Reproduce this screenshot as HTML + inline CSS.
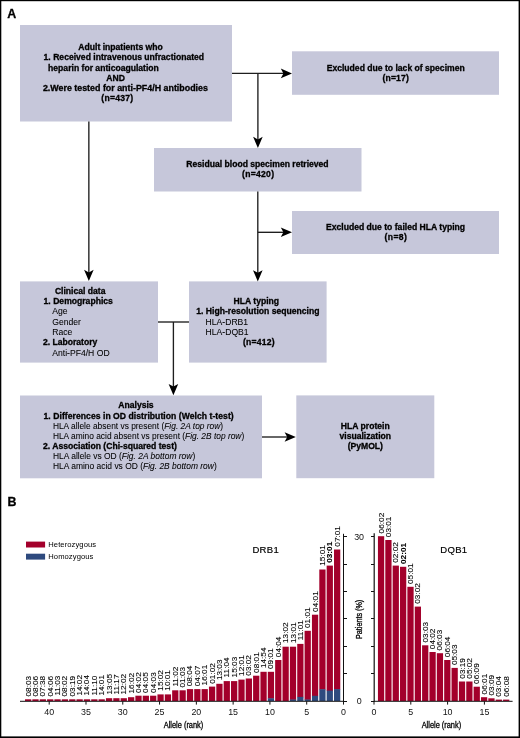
<!DOCTYPE html>
<html><head><meta charset="utf-8"><title>Figure</title>
<style>
html,body{margin:0;padding:0;background:#fff;}
svg{display:block;}
text{font-family:"Liberation Sans",sans-serif;}
.b{font-size:8.6px;font-weight:bold;fill:#000;stroke:#000;stroke-width:0.3px;}
.r{font-size:8.6px;fill:#000;stroke:#000;stroke-width:0.06px;}
.lbl{font-size:12.4px;font-weight:bold;fill:#000;stroke:#000;stroke-width:0.3px;}
.leg{font-size:7.6px;fill:#000;letter-spacing:0.08px;}
.ttl{font-size:9.5px;fill:#000;letter-spacing:0.35px;stroke:#000;stroke-width:0.2px;}
.bl{font-size:7.5px;fill:#000;stroke:#000;stroke-width:0.1px;}
.b2{font-weight:bold;}
.tk{font-size:8.9px;fill:#111;}
.ax{font-size:8.4px;fill:#000;stroke:#000;stroke-width:0.3px;}
</style></head>
<body>
<svg width="520" height="738" viewBox="0 0 520 738">
<rect x="0" y="0" width="520" height="738" fill="#fff"/>
<text x="7.30" y="18.40" class="lbl">A</text>
<rect x="20.00" y="25.00" width="212.00" height="96.50" fill="#c6c7da"/>
<rect x="292.00" y="51.30" width="207.00" height="43.50" fill="#c6c7da"/>
<rect x="154.00" y="148.00" width="207.50" height="43.50" fill="#c6c7da"/>
<rect x="292.00" y="211.00" width="207.00" height="43.00" fill="#c6c7da"/>
<rect x="20.00" y="281.40" width="138.00" height="81.20" fill="#c6c7da"/>
<rect x="189.00" y="281.40" width="137.60" height="81.20" fill="#c6c7da"/>
<rect x="20.00" y="395.50" width="242.00" height="82.80" fill="#c6c7da"/>
<rect x="296.30" y="395.40" width="138.00" height="82.80" fill="#c6c7da"/>
<line x1="232.00" y1="73.40" x2="287.00" y2="73.40" stroke="#1e1e1e" stroke-width="1.35"/>
<path d="M292.00,73.40 L280.80,68.60 L283.40,73.40 L280.80,78.20 Z" fill="#000"/>
<line x1="257.90" y1="73.40" x2="257.90" y2="143.00" stroke="#1e1e1e" stroke-width="1.35"/>
<path d="M257.90,148.00 L253.10,136.80 L257.90,139.40 L262.70,136.80 Z" fill="#000"/>
<line x1="257.80" y1="191.50" x2="257.80" y2="276.00" stroke="#1e1e1e" stroke-width="1.35"/>
<path d="M257.80,281.40 L253.00,270.20 L257.80,272.80 L262.60,270.20 Z" fill="#000"/>
<line x1="257.80" y1="232.30" x2="287.00" y2="232.30" stroke="#1e1e1e" stroke-width="1.35"/>
<path d="M292.00,232.30 L280.80,227.50 L283.40,232.30 L280.80,237.10 Z" fill="#000"/>
<line x1="88.85" y1="121.50" x2="88.85" y2="276.00" stroke="#1e1e1e" stroke-width="1.35"/>
<path d="M88.85,281.00 L84.05,269.80 L88.85,272.40 L93.65,269.80 Z" fill="#000"/>
<line x1="158.00" y1="322.00" x2="189.00" y2="322.00" stroke="#1e1e1e" stroke-width="1.35"/>
<line x1="173.40" y1="322.00" x2="173.40" y2="390.00" stroke="#1e1e1e" stroke-width="1.35"/>
<path d="M173.40,395.20 L168.60,384.00 L173.40,386.60 L178.20,384.00 Z" fill="#000"/>
<line x1="262.00" y1="437.00" x2="291.00" y2="437.00" stroke="#1e1e1e" stroke-width="1.35"/>
<path d="M295.80,437.00 L284.60,432.20 L287.20,437.00 L284.60,441.80 Z" fill="#000"/>
<text x="78.30" y="50.00" class="b">Adult inpatients who</text>
<text x="43.60" y="60.40" class="b">1. Received intravenous unfractionated</text>
<text x="48.10" y="70.60" class="b">heparin for anticoagulation</text>
<text x="106.30" y="80.80" class="b">AND</text>
<text x="42.90" y="91.20" class="b" textLength="165" lengthAdjust="spacingAndGlyphs">2.Were tested for anti-PF4/H antibodies</text>
<text x="101.30" y="101.30" class="b" textLength="31.8" lengthAdjust="spacing">(n=437)</text>
<text x="326.70" y="70.70" class="b">Excluded due to lack of specimen</text>
<text x="382.60" y="80.60" class="b" textLength="26.2" lengthAdjust="spacing">(n=17)</text>
<text x="186.30" y="167.00" class="b">Residual blood specimen retrieved</text>
<text x="242.10" y="177.40" class="b" textLength="31.9" lengthAdjust="spacing">(n=420)</text>
<text x="326.00" y="229.90" class="b">Excluded due to failed HLA typing</text>
<text x="384.60" y="240.00" class="b" textLength="22.3" lengthAdjust="spacing">(n=8)</text>
<text x="54.90" y="293.80" class="b">Clinical data</text>
<text x="43.60" y="303.90" class="b">1. Demographics</text>
<text x="52.30" y="314.10" class="r">Age</text>
<text x="52.30" y="324.50" class="r">Gender</text>
<text x="52.30" y="335.00" class="r">Race</text>
<text x="42.90" y="345.40" class="b">2. Laboratory</text>
<text x="52.30" y="355.70" class="r">Anti-PF4/H OD</text>
<text x="233.60" y="303.80" class="b">HLA typing</text>
<text x="196.30" y="314.00" class="b">1. High-resolution sequencing</text>
<text x="205.60" y="324.90" class="r">HLA-DRB1</text>
<text x="205.60" y="334.90" class="r">HLA-DQB1</text>
<text x="242.90" y="344.80" class="b" textLength="31.6" lengthAdjust="spacing">(n=412)</text>
<text x="118.30" y="408.10" class="b">Analysis</text>
<text x="43.50" y="418.60" class="b" textLength="190.2" lengthAdjust="spacing">1. Differences in OD distribution (Welch t-test)</text>
<text x="52.90" y="429.20" class="r" textLength="170.2" lengthAdjust="spacingAndGlyphs">HLA allele absent vs present (<tspan font-style="italic">Fig. 2A top row</tspan>)</text>
<text x="52.90" y="439.30" class="r" textLength="191.3" lengthAdjust="spacingAndGlyphs">HLA amino acid absent vs present (<tspan font-style="italic">Fig. 2B top row</tspan>)</text>
<text x="43.00" y="449.20" class="b">2. Association (Chi-squared test)</text>
<text x="52.90" y="459.30" class="r" textLength="142.3" lengthAdjust="spacingAndGlyphs">HLA allele vs OD (<tspan font-style="italic">Fig. 2A bottom row</tspan>)</text>
<text x="52.90" y="469.40" class="r" textLength="163.8" lengthAdjust="spacingAndGlyphs">HLA amino acid vs OD (<tspan font-style="italic">Fig. 2B bottom row</tspan>)</text>
<text x="365.30" y="429.30" class="b" text-anchor="middle">HLA protein</text>
<text x="365.30" y="439.30" class="b" text-anchor="middle">visualization</text>
<text x="365.30" y="449.30" class="b" text-anchor="middle">(PyMOL)</text>
<text x="7.40" y="505.60" class="lbl">B</text>
<rect x="26.00" y="541.60" width="19.10" height="5.90" fill="#a3002b"/>
<rect x="26.00" y="553.70" width="19.10" height="5.90" fill="#2e4a7e"/>
<text x="48.30" y="546.70" class="leg">Heterozygous</text>
<text x="48.30" y="558.60" class="leg">Homozygous</text>
<text x="252.40" y="553.00" class="ttl">DRB1</text>
<text x="440.20" y="552.90" class="ttl">DQB1</text>
<rect x="334.02" y="549.50" width="6.25" height="140.00" fill="#a3002b"/>
<rect x="334.02" y="689.10" width="6.25" height="11.90" fill="#2e4a7e"/>
<rect x="326.66" y="565.60" width="6.25" height="125.40" fill="#a3002b"/>
<rect x="326.66" y="690.60" width="6.25" height="10.40" fill="#2e4a7e"/>
<rect x="319.30" y="569.50" width="6.25" height="120.10" fill="#a3002b"/>
<rect x="319.30" y="689.20" width="6.25" height="11.80" fill="#2e4a7e"/>
<rect x="311.94" y="614.70" width="6.25" height="81.50" fill="#a3002b"/>
<rect x="311.94" y="695.80" width="6.25" height="5.20" fill="#2e4a7e"/>
<rect x="304.59" y="630.80" width="6.25" height="69.10" fill="#a3002b"/>
<rect x="304.59" y="699.50" width="6.25" height="1.50" fill="#2e4a7e"/>
<rect x="297.23" y="643.90" width="6.25" height="53.40" fill="#a3002b"/>
<rect x="297.23" y="696.90" width="6.25" height="4.10" fill="#2e4a7e"/>
<rect x="289.87" y="646.70" width="6.25" height="53.20" fill="#a3002b"/>
<rect x="289.87" y="699.50" width="6.25" height="1.50" fill="#2e4a7e"/>
<rect x="282.51" y="646.70" width="6.25" height="54.30" fill="#a3002b"/>
<rect x="275.16" y="660.00" width="6.25" height="41.00" fill="#a3002b"/>
<rect x="267.80" y="671.80" width="6.25" height="26.90" fill="#a3002b"/>
<rect x="267.80" y="698.30" width="6.25" height="2.70" fill="#2e4a7e"/>
<rect x="260.44" y="671.80" width="6.25" height="29.20" fill="#a3002b"/>
<rect x="253.09" y="675.70" width="6.25" height="25.30" fill="#a3002b"/>
<rect x="245.73" y="678.50" width="6.25" height="22.50" fill="#a3002b"/>
<rect x="238.37" y="679.60" width="6.25" height="21.40" fill="#a3002b"/>
<rect x="231.01" y="681.10" width="6.25" height="19.90" fill="#a3002b"/>
<rect x="223.66" y="681.10" width="6.25" height="19.90" fill="#a3002b"/>
<rect x="216.30" y="683.80" width="6.25" height="17.20" fill="#a3002b"/>
<rect x="208.94" y="686.60" width="6.25" height="14.40" fill="#a3002b"/>
<rect x="201.58" y="689.10" width="6.25" height="11.90" fill="#a3002b"/>
<rect x="194.22" y="689.10" width="6.25" height="11.90" fill="#a3002b"/>
<rect x="186.87" y="689.10" width="6.25" height="11.90" fill="#a3002b"/>
<rect x="179.51" y="690.30" width="6.25" height="10.70" fill="#a3002b"/>
<rect x="172.15" y="690.30" width="6.25" height="10.70" fill="#a3002b"/>
<rect x="164.80" y="694.40" width="6.25" height="6.60" fill="#a3002b"/>
<rect x="157.44" y="694.40" width="6.25" height="6.60" fill="#a3002b"/>
<rect x="150.08" y="695.70" width="6.25" height="5.30" fill="#a3002b"/>
<rect x="142.72" y="695.70" width="6.25" height="5.30" fill="#a3002b"/>
<rect x="135.37" y="695.70" width="6.25" height="5.30" fill="#a3002b"/>
<rect x="128.01" y="697.20" width="6.25" height="3.80" fill="#a3002b"/>
<rect x="120.65" y="698.20" width="6.25" height="2.80" fill="#a3002b"/>
<rect x="113.29" y="698.20" width="6.25" height="2.80" fill="#a3002b"/>
<rect x="105.94" y="698.20" width="6.25" height="2.80" fill="#a3002b"/>
<rect x="98.58" y="699.30" width="6.25" height="1.70" fill="#a3002b"/>
<rect x="91.22" y="699.30" width="6.25" height="1.70" fill="#a3002b"/>
<rect x="83.86" y="699.30" width="6.25" height="1.70" fill="#a3002b"/>
<rect x="76.50" y="699.30" width="6.25" height="1.70" fill="#a3002b"/>
<rect x="69.15" y="699.30" width="6.25" height="1.70" fill="#a3002b"/>
<rect x="61.79" y="699.30" width="6.25" height="1.70" fill="#a3002b"/>
<rect x="54.43" y="699.30" width="6.25" height="1.70" fill="#a3002b"/>
<rect x="47.07" y="699.30" width="6.25" height="1.70" fill="#a3002b"/>
<rect x="39.72" y="699.30" width="6.25" height="1.70" fill="#a3002b"/>
<rect x="32.36" y="699.30" width="6.25" height="1.70" fill="#a3002b"/>
<rect x="25.00" y="699.30" width="6.25" height="1.70" fill="#a3002b"/>
<text class="bl" transform="translate(339.64,546.70) rotate(-90) scale(1.1,1)">07:01</text>
<text class="bl b2" transform="translate(332.29,562.80) rotate(-90) scale(1.1,1)">03:01</text>
<text class="bl" transform="translate(324.93,565.80) rotate(-90) scale(1.1,1)">15:01</text>
<text class="bl" transform="translate(317.57,611.90) rotate(-90) scale(1.1,1)">04:01</text>
<text class="bl" transform="translate(310.21,628.00) rotate(-90) scale(1.1,1)">01:01</text>
<text class="bl" transform="translate(302.86,640.20) rotate(-90) scale(1.1,1)">11:01</text>
<text class="bl" transform="translate(295.50,643.00) rotate(-90) scale(1.1,1)">13:01</text>
<text class="bl" transform="translate(288.14,643.00) rotate(-90) scale(1.1,1)">13:02</text>
<text class="bl" transform="translate(280.78,657.20) rotate(-90) scale(1.1,1)">04:04</text>
<text class="bl" transform="translate(273.43,669.00) rotate(-90) scale(1.1,1)">09:01</text>
<text class="bl" transform="translate(266.07,668.10) rotate(-90) scale(1.1,1)">14:54</text>
<text class="bl" transform="translate(258.71,672.90) rotate(-90) scale(1.1,1)">08:01</text>
<text class="bl" transform="translate(251.35,675.70) rotate(-90) scale(1.1,1)">03:02</text>
<text class="bl" transform="translate(244.00,675.90) rotate(-90) scale(1.1,1)">12:01</text>
<text class="bl" transform="translate(236.64,677.40) rotate(-90) scale(1.1,1)">15:03</text>
<text class="bl" transform="translate(229.28,677.40) rotate(-90) scale(1.1,1)">11:04</text>
<text class="bl" transform="translate(221.92,680.10) rotate(-90) scale(1.1,1)">13:03</text>
<text class="bl" transform="translate(214.56,683.80) rotate(-90) scale(1.1,1)">01:02</text>
<text class="bl" transform="translate(207.21,685.40) rotate(-90) scale(1.1,1)">16:01</text>
<text class="bl" transform="translate(199.85,686.30) rotate(-90) scale(1.1,1)">04:07</text>
<text class="bl" transform="translate(192.49,686.30) rotate(-90) scale(1.1,1)">08:04</text>
<text class="bl" transform="translate(185.13,687.50) rotate(-90) scale(1.1,1)">01:03</text>
<text class="bl" transform="translate(177.78,686.60) rotate(-90) scale(1.1,1)">11:02</text>
<text class="bl" transform="translate(170.42,690.70) rotate(-90) scale(1.1,1)">10:01</text>
<text class="bl" transform="translate(163.06,690.70) rotate(-90) scale(1.1,1)">15:02</text>
<text class="bl" transform="translate(155.71,692.90) rotate(-90) scale(1.1,1)">04:03</text>
<text class="bl" transform="translate(148.35,692.90) rotate(-90) scale(1.1,1)">04:05</text>
<text class="bl" transform="translate(140.99,692.90) rotate(-90) scale(1.1,1)">04:02</text>
<text class="bl" transform="translate(133.63,693.50) rotate(-90) scale(1.1,1)">16:02</text>
<text class="bl" transform="translate(126.28,694.50) rotate(-90) scale(1.1,1)">12:02</text>
<text class="bl" transform="translate(118.92,694.50) rotate(-90) scale(1.1,1)">11:17</text>
<text class="bl" transform="translate(111.56,694.50) rotate(-90) scale(1.1,1)">13:05</text>
<text class="bl" transform="translate(104.20,695.60) rotate(-90) scale(1.1,1)">14:01</text>
<text class="bl" transform="translate(96.84,695.60) rotate(-90) scale(1.1,1)">11:10</text>
<text class="bl" transform="translate(89.49,695.60) rotate(-90) scale(1.1,1)">14:04</text>
<text class="bl" transform="translate(82.13,695.60) rotate(-90) scale(1.1,1)">14:02</text>
<text class="bl" transform="translate(74.77,696.50) rotate(-90) scale(1.1,1)">03:19</text>
<text class="bl" transform="translate(67.42,696.50) rotate(-90) scale(1.1,1)">08:02</text>
<text class="bl" transform="translate(60.06,695.60) rotate(-90) scale(1.1,1)">11:03</text>
<text class="bl" transform="translate(52.70,696.50) rotate(-90) scale(1.1,1)">04:06</text>
<text class="bl" transform="translate(45.34,696.50) rotate(-90) scale(1.1,1)">07:38</text>
<text class="bl" transform="translate(37.99,696.50) rotate(-90) scale(1.1,1)">08:06</text>
<text class="bl" transform="translate(30.63,696.50) rotate(-90) scale(1.1,1)">08:03</text>
<rect x="377.94" y="536.20" width="6.25" height="164.80" fill="#a3002b"/>
<rect x="385.30" y="540.00" width="6.25" height="161.00" fill="#a3002b"/>
<rect x="392.65" y="565.60" width="6.25" height="135.40" fill="#a3002b"/>
<rect x="400.01" y="566.80" width="6.25" height="134.20" fill="#a3002b"/>
<rect x="407.38" y="586.80" width="6.25" height="114.20" fill="#a3002b"/>
<rect x="414.74" y="606.60" width="6.25" height="94.40" fill="#a3002b"/>
<rect x="422.09" y="645.30" width="6.25" height="55.70" fill="#a3002b"/>
<rect x="429.45" y="652.00" width="6.25" height="49.00" fill="#a3002b"/>
<rect x="436.81" y="653.20" width="6.25" height="47.80" fill="#a3002b"/>
<rect x="444.18" y="660.00" width="6.25" height="41.00" fill="#a3002b"/>
<rect x="451.53" y="667.90" width="6.25" height="33.10" fill="#a3002b"/>
<rect x="458.89" y="681.50" width="6.25" height="19.50" fill="#a3002b"/>
<rect x="466.25" y="681.50" width="6.25" height="19.50" fill="#a3002b"/>
<rect x="473.62" y="686.70" width="6.25" height="14.30" fill="#a3002b"/>
<rect x="480.98" y="697.20" width="6.25" height="3.80" fill="#a3002b"/>
<rect x="488.33" y="698.30" width="6.25" height="2.70" fill="#a3002b"/>
<rect x="495.69" y="699.60" width="6.25" height="1.40" fill="#a3002b"/>
<rect x="503.06" y="699.60" width="6.25" height="1.40" fill="#a3002b"/>
<text class="bl" transform="translate(383.56,533.40) rotate(-90) scale(1.1,1)">06:02</text>
<text class="bl" transform="translate(390.92,537.20) rotate(-90) scale(1.1,1)">03:01</text>
<text class="bl" transform="translate(398.28,562.80) rotate(-90) scale(1.1,1)">02:02</text>
<text class="bl b2" transform="translate(405.64,564.00) rotate(-90) scale(1.1,1)">02:01</text>
<text class="bl" transform="translate(413.00,584.00) rotate(-90) scale(1.1,1)">05:01</text>
<text class="bl" transform="translate(420.36,603.80) rotate(-90) scale(1.1,1)">03:02</text>
<text class="bl" transform="translate(427.72,642.50) rotate(-90) scale(1.1,1)">03:03</text>
<text class="bl" transform="translate(435.08,649.20) rotate(-90) scale(1.1,1)">04:02</text>
<text class="bl" transform="translate(442.44,650.40) rotate(-90) scale(1.1,1)">06:03</text>
<text class="bl" transform="translate(449.80,657.20) rotate(-90) scale(1.1,1)">06:04</text>
<text class="bl" transform="translate(457.16,665.10) rotate(-90) scale(1.1,1)">05:03</text>
<text class="bl" transform="translate(464.52,678.70) rotate(-90) scale(1.1,1)">03:19</text>
<text class="bl" transform="translate(471.88,678.70) rotate(-90) scale(1.1,1)">05:02</text>
<text class="bl" transform="translate(479.24,683.90) rotate(-90) scale(1.1,1)">06:09</text>
<text class="bl" transform="translate(486.60,694.40) rotate(-90) scale(1.1,1)">06:01</text>
<text class="bl" transform="translate(493.96,695.50) rotate(-90) scale(1.1,1)">03:09</text>
<text class="bl" transform="translate(501.32,696.80) rotate(-90) scale(1.1,1)">03:04</text>
<text class="bl" transform="translate(508.68,696.80) rotate(-90) scale(1.1,1)">06:08</text>
<line x1="20" y1="701.3" x2="343.9" y2="701.3" stroke="#111" stroke-width="1"/>
<line x1="343.5" y1="533.8" x2="343.5" y2="701.8" stroke="#111" stroke-width="1"/>
<line x1="343.5" y1="701.50" x2="347" y2="701.50" stroke="#111" stroke-width="1"/>
<line x1="343.5" y1="673.50" x2="347" y2="673.50" stroke="#111" stroke-width="1"/>
<line x1="343.5" y1="646.50" x2="347" y2="646.50" stroke="#111" stroke-width="1"/>
<line x1="343.5" y1="618.50" x2="347" y2="618.50" stroke="#111" stroke-width="1"/>
<line x1="343.5" y1="591.50" x2="347" y2="591.50" stroke="#111" stroke-width="1"/>
<line x1="343.5" y1="564.50" x2="347" y2="564.50" stroke="#111" stroke-width="1"/>
<line x1="343.5" y1="536.50" x2="347" y2="536.50" stroke="#111" stroke-width="1"/>
<line x1="343.50" y1="701.3" x2="343.50" y2="704.6" stroke="#111" stroke-width="1"/>
<text x="343.50" y="715.30" class="tk" text-anchor="middle">0</text>
<line x1="306.71" y1="701.3" x2="306.71" y2="704.6" stroke="#111" stroke-width="1"/>
<text x="306.71" y="715.30" class="tk" text-anchor="middle">5</text>
<line x1="269.93" y1="701.3" x2="269.93" y2="704.6" stroke="#111" stroke-width="1"/>
<text x="269.93" y="715.30" class="tk" text-anchor="middle">10</text>
<line x1="233.14" y1="701.3" x2="233.14" y2="704.6" stroke="#111" stroke-width="1"/>
<text x="233.14" y="715.30" class="tk" text-anchor="middle">15</text>
<line x1="196.35" y1="701.3" x2="196.35" y2="704.6" stroke="#111" stroke-width="1"/>
<text x="196.35" y="715.30" class="tk" text-anchor="middle">20</text>
<line x1="159.56" y1="701.3" x2="159.56" y2="704.6" stroke="#111" stroke-width="1"/>
<text x="159.56" y="715.30" class="tk" text-anchor="middle">25</text>
<line x1="122.78" y1="701.3" x2="122.78" y2="704.6" stroke="#111" stroke-width="1"/>
<text x="122.78" y="715.30" class="tk" text-anchor="middle">30</text>
<line x1="85.99" y1="701.3" x2="85.99" y2="704.6" stroke="#111" stroke-width="1"/>
<text x="85.99" y="715.30" class="tk" text-anchor="middle">35</text>
<line x1="49.20" y1="701.3" x2="49.20" y2="704.6" stroke="#111" stroke-width="1"/>
<text x="49.20" y="715.30" class="tk" text-anchor="middle">40</text>
<text class="ax" text-anchor="middle" transform="translate(183.5,727.6) scale(0.883,1)">Allele (rank)</text>
<line x1="373.6" y1="701.3" x2="512.6" y2="701.3" stroke="#111" stroke-width="1"/>
<line x1="374.2" y1="533.3" x2="374.2" y2="701.8" stroke="#111" stroke-width="1.2"/>
<line x1="371.0" y1="701.50" x2="374" y2="701.50" stroke="#111" stroke-width="1"/>
<line x1="371.0" y1="673.50" x2="374" y2="673.50" stroke="#111" stroke-width="1"/>
<line x1="371.0" y1="646.50" x2="374" y2="646.50" stroke="#111" stroke-width="1"/>
<line x1="371.0" y1="618.50" x2="374" y2="618.50" stroke="#111" stroke-width="1"/>
<line x1="371.0" y1="591.50" x2="374" y2="591.50" stroke="#111" stroke-width="1"/>
<line x1="371.0" y1="564.50" x2="374" y2="564.50" stroke="#111" stroke-width="1"/>
<line x1="371.0" y1="536.50" x2="374" y2="536.50" stroke="#111" stroke-width="1"/>
<line x1="374.00" y1="701.3" x2="374.00" y2="704.6" stroke="#111" stroke-width="1"/>
<text x="374.00" y="715.30" class="tk" text-anchor="middle">0</text>
<line x1="410.80" y1="701.3" x2="410.80" y2="704.6" stroke="#111" stroke-width="1"/>
<text x="410.80" y="715.30" class="tk" text-anchor="middle">5</text>
<line x1="447.60" y1="701.3" x2="447.60" y2="704.6" stroke="#111" stroke-width="1"/>
<text x="447.60" y="715.30" class="tk" text-anchor="middle">10</text>
<line x1="484.40" y1="701.3" x2="484.40" y2="704.6" stroke="#111" stroke-width="1"/>
<text x="484.40" y="715.30" class="tk" text-anchor="middle">15</text>
<text class="ax" text-anchor="middle" transform="translate(441.4,727.6) scale(0.883,1)">Allele (rank)</text>
<text x="359.10" y="539.60" class="tk" text-anchor="middle">30</text>
<text x="359.10" y="704.00" class="tk" text-anchor="middle">0</text>
<text class="ax" text-anchor="middle" transform="translate(362.2,619.4) rotate(-90) scale(0.857,1)">Patients (%)</text>
<rect x="0.00" y="0.00" width="520.00" height="1.20" fill="#000"/>
<rect x="0.00" y="0.00" width="1.30" height="738.00" fill="#000"/>
<rect x="518.60" y="0.00" width="1.40" height="738.00" fill="#000"/>
<rect x="0.00" y="736.40" width="520.00" height="1.60" fill="#000"/>
</svg>
</body></html>
